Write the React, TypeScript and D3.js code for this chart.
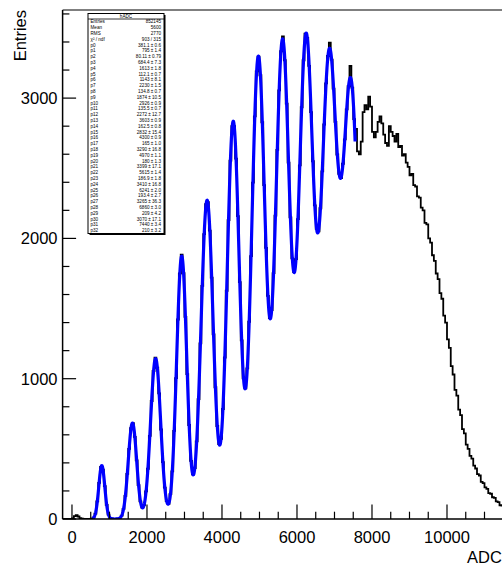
import React from 'react';
import * as d3 from 'd3';

const W = 502;
const H = 566;

// ADC spectrum, 50-count bins starting at -250
const binStart = -250;
const binWidth = 50;
const counts = [
  0, 0, 0, 0, 0, 5, 20, 28, 18, 6, 2, 0, 0, 0, 1, 3,
  9, 38, 126, 258, 372, 352, 234, 100, 31, 7, 2, 0, 1, 2, 8, 24, 72, 165, 322, 500,
  648, 684, 585, 418, 242, 126, 82, 100, 197, 358, 592, 841, 1055, 1150, 1078, 895,
  638, 405, 224, 128, 108, 177, 340, 628, 1004, 1422, 1750, 1885, 1752, 1440, 1032, 670,
  415, 318, 362, 553, 855, 1252, 1662, 2030, 2245, 2258, 2055,
  1721, 1316, 939, 663, 533, 572, 784, 1151, 1627, 2130, 2554, 2800, 2800, 2568, 2159, 1689,
  1273, 1002, 931, 1073, 1406, 1874, 2397, 2870, 3191, 3295, 3163, 2828, 2380, 1933, 1591, 1432,
  1489, 1753, 2162, 2631, 3055, 3334, 3440, 3270, 2960, 2540, 2150, 1858, 1760, 1852, 2138, 2520,
  2935, 3270, 3460, 3430, 3230, 2900, 2550, 2235,
  2068, 2050, 2215, 2478, 2812, 3105, 3300, 3395, 3275, 3068, 2830, 2598, 2460, 2430, 2532, 2706,
  2920, 3085, 3230, 3075, 2850,
  2780, 2620, 2600, 2690, 2900, 2950, 2920, 3010, 2940, 2760, 2720, 2760, 2830, 2870, 2820, 2740,
  2680, 2660, 2800, 2760, 2730, 2690, 2745, 2650, 2660, 2590, 2600, 2540, 2510, 2450, 2460, 2380,
  2370, 2300, 2290, 2220, 2200, 2110, 2100, 2000, 1970, 1880, 1840, 1750, 1710, 1610, 1570, 1450,
  1400, 1280, 1220, 1090, 1030, 920, 880, 780, 740, 640, 610, 530, 500, 450, 430, 380,
  360, 320, 310, 265, 255, 225, 215, 185, 180, 155, 150, 125, 120, 98, 95, 78, 72,
];

// Fit: sum of 11 gaussians, parameters (amplitude, mean, sigma) per peak
const fitAmp = [381.1, 684.4, 1143, 1874, 2272, 2832, 3290, 3399, 3410, 3265, 3070];
const fitAmpErr = ['0.6', '7.3', '8.1', '10.5', '12.7', '15.4', '16.8', '17.1', '16.8', '36.3', '17.1'];
const fitMean = [795, 1613, 2230, 2926, 3603, 4300, 4970, 5615, 6241, 6860, 7440];
const fitMeanErr = ['1.4', '1.8', '1.5', '0.9', '0.9', '0.9', '1.1', '1.4', '2.0', '3.0', '3.4'];
const fitSigma = [80.11, 112.1, 134.8, 135.5, 162.5, 165.0, 180.0, 186.9, 193.4, 209.0, 210.0];
const fitSigmaErr = ['0.79', '0.7', '0.7', '0.7', '0.8', '1.0', '1.3', '1.8', '2.7', '4.2', '3.2'];
const fitRange = [550, 7550];

const statsTitle = 'hADC';
const statsEntries = '852145';
const statsMean = '5600';
const statsRms = '2770';
const statsChi2 = '903 / 315';

const xMajorTicks = [0, 2000, 4000, 6000, 8000, 10000];
const yMajorTicks = [0, 1000, 2000, 3000];

const FONT = '"Liberation Sans", Arial, Helvetica, sans-serif';

function fitValue(v: number): number {
  let s = 0;
  for (let k = 0; k < fitAmp.length; k++) {
    const d = (v - fitMean[k]) / fitSigma[k];
    s += fitAmp[k] * Math.exp(-0.5 * d * d);
  }
  return s;
}

function fmt(v: number): string {
  if (v >= 1000) return String(Math.round(v));
  return String(v);
}

export default function App() {
  const xMin = -250;
  const xMax = 11600;
  const left = 62.6;
  const right = 507;
  const top = 10;
  const bottom = 519;
  const x = d3.scaleLinear().domain([xMin, xMax]).range([left, right]);
  const y = d3.scaleLinear().domain([0, 3628]).range([bottom, top]);

  const stepPts: [number, number][] = [];
  counts.forEach((c, i) => {
    const x0 = binStart + i * binWidth;
    stepPts.push([x0, c], [x0 + binWidth, c]);
  });
  const line = d3
    .line<[number, number]>()
    .x((d) => x(d[0]))
    .y((d) => y(d[1]));
  const histPath = line(stepPts) || '';

  const fitPts: [number, number][] = d3
    .range(fitRange[0], fitRange[1] + 0.1, 5)
    .map((v) => [v, fitValue(v)] as [number, number]);
  const fitPath = line(fitPts) || '';

  const xMinor = d3.range(0, xMax, 500).filter((v) => v % 2000 !== 0);
  const yMinor = d3.range(0, 3628, 200).filter((v) => v % 1000 !== 0);

  // stats box rows
  const rows: [string, string][] = [
    ['Entries', statsEntries],
    ['Mean', statsMean],
    ['RMS', statsRms],
    ['\u03C7\u00B2 / ndf', statsChi2],
  ];
  for (let k = 0; k < fitAmp.length; k++) {
    rows.push([`p${3 * k}`, `${fmt(fitAmp[k])} \u00B1 ${fitAmpErr[k]}`]);
    rows.push([`p${3 * k + 1}`, `${fmt(fitMean[k])} \u00B1 ${fitMeanErr[k]}`]);
    rows.push([`p${3 * k + 2}`, `${fmt(fitSigma[k])} \u00B1 ${fitSigmaErr[k]}`]);
  }
  const boxL = 88;
  const boxR = 164;
  const boxT = 13.5;
  const boxB = 233.5;
  const headH = 5.5;
  const rowH = (boxB - boxT - headH) / rows.length;

  return (
    <svg
      width={W}
      height={H}
      style={{ position: 'absolute', left: 0, top: 0, background: '#fff' }}
      fontFamily={FONT}
    >
      <defs>
        <clipPath id="frame">
          <rect x={left} y={top} width={right - left} height={bottom - top} />
        </clipPath>
      </defs>
      <rect x={0} y={0} width={W} height={H} fill="#fff" />

      <path d={histPath} fill="none" stroke="#000" strokeWidth={1.8} clipPath="url(#frame)" />
      <path d={fitPath} fill="none" stroke="#0000ff" strokeWidth={3.2} strokeLinejoin="round" clipPath="url(#frame)" />

      {/* frame */}
      <line x1={left} y1={top} x2={right} y2={top} stroke="#000" strokeWidth={1.2} />
      <line x1={left} y1={top} x2={left} y2={bottom} stroke="#000" strokeWidth={1.5} />
      <line x1={left} y1={bottom} x2={right} y2={bottom} stroke="#000" strokeWidth={1.5} />

      {/* x ticks */}
      {xMajorTicks.map((t) => (
        <line key={'xm' + t} x1={x(t)} x2={x(t)} y1={bottom} y2={bottom - 14.5} stroke="#000" strokeWidth={1.2} />
      ))}
      {xMinor.map((t) => (
        <line key={'xn' + t} x1={x(t)} x2={x(t)} y1={bottom} y2={bottom - 7.3} stroke="#000" strokeWidth={1.2} />
      ))}
      {xMajorTicks.map((t) => (
        <text key={'xl' + t} x={x(t)} y={543} fontSize={16.5} textAnchor="middle" fill="#000">
          {t}
        </text>
      ))}

      {/* y ticks */}
      {yMajorTicks.map((t) => (
        <line key={'ym' + t} x1={left} x2={left + 13.5} y1={y(t)} y2={y(t)} stroke="#000" strokeWidth={1.2} />
      ))}
      {yMinor.map((t) => (
        <line key={'yn' + t} x1={left} x2={left + 6.8} y1={y(t)} y2={y(t)} stroke="#000" strokeWidth={1.2} />
      ))}
      {yMajorTicks.map((t) => (
        <text key={'yl' + t} x={57.5} y={y(t) + 6} fontSize={16.5} textAnchor="end" fill="#000">
          {t}
        </text>
      ))}

      {/* axis titles */}
      <text x={467} y={563} fontSize={16.5} fill="#000">
        ADC
      </text>
      <text transform={`translate(26, 10) rotate(-90)`} fontSize={16.5} textAnchor="end" fill="#000">
        Entries
      </text>

      {/* statistics box */}
      <rect x={boxL + 1.5} y={boxT + 1.5} width={boxR - boxL} height={boxB - boxT} fill="#000" />
      <rect x={boxL} y={boxT} width={boxR - boxL} height={boxB - boxT} fill="#fff" stroke="#000" strokeWidth={1} />
      <line x1={boxL} x2={boxR} y1={boxT + headH} y2={boxT + headH} stroke="#000" strokeWidth={0.8} />
      <text x={(boxL + boxR) / 2} y={boxT + headH - 1.2} fontSize={4.6} textAnchor="middle" fill="#000">
        {statsTitle}
      </text>
      {rows.map((r, i) => (
        <g key={'row' + i}>
          <text x={boxL + 2.5} y={boxT + headH + rowH * (i + 1) - 1.3} fontSize={4.6} fill="#000">
            {r[0]}
          </text>
          <text x={boxR - 3} y={boxT + headH + rowH * (i + 1) - 1.3} fontSize={4.6} textAnchor="end" fill="#000">
            {r[1]}
          </text>
        </g>
      ))}
    </svg>
  );
}
